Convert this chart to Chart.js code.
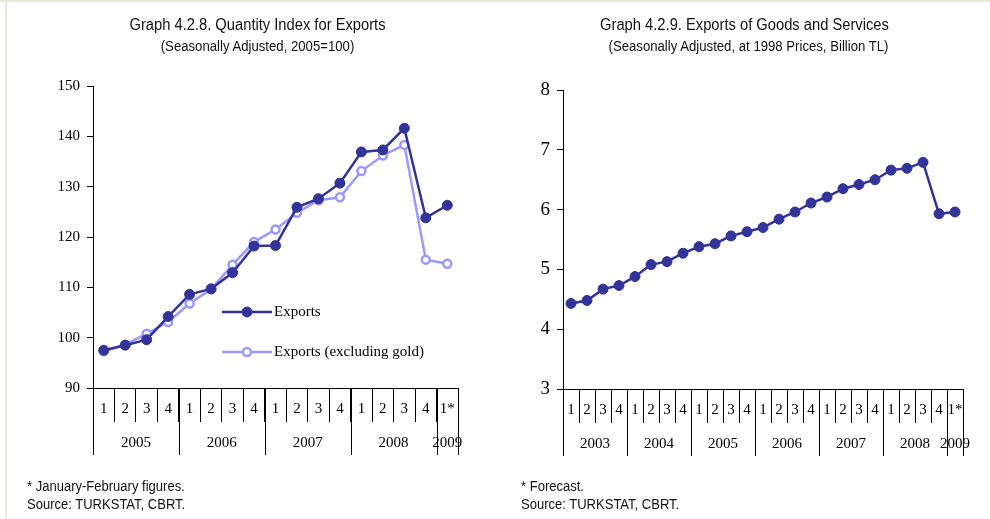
<!DOCTYPE html>
<html>
<head>
<meta charset="utf-8">
<script src="https://cdn.jsdelivr.net/npm/chart.js@4.4.1/dist/chart.umd.min.js"></script>
<style>
  html, body { margin: 0; padding: 0; background: #fff; }
  body { width: 990px; height: 519px; position: relative; overflow: hidden;
         font-family: 'Liberation Sans Narrow', 'Liberation Sans', Arial, sans-serif; color: #111; }
  .frame-top { position: absolute; left: 0; top: 0; width: 990px; height: 2px; background: #ece9d8; }
  .frame-left { position: absolute; left: 5px; top: 0; width: 2px; height: 519px; background: #ece9d8; }
  .panel { position: absolute; top: 0; width: 495px; height: 519px; }
  .panel canvas { position: absolute; left: 0; top: 0; }
  .title { position: absolute; left: 0; width: 100%; text-align: center; white-space: nowrap; }
  .t1 { top: 16px; font-size: 16px; transform: scaleX(0.92); }
  .t2 { top: 38px; font-size: 14px; transform: scaleX(0.94); }
  .note { position: absolute; top: 477px; font-size: 14px; line-height: 18px; white-space: nowrap;
          transform: scaleX(0.93); transform-origin: left top; }
</style>
</head>
<body>
<div class="frame-top"></div>
<div class="frame-left"></div>

<div class="panel" style="left:0">
  <canvas id="qtyChart" width="495" height="519"></canvas>
  <div class="title t1" style="left:10px">Graph 4.2.8. Quantity Index for Exports</div>
  <div class="title t2" style="left:10px">(Seasonally Adjusted, 2005=100)</div>
  <div class="note" style="left:27px">* January-February figures.<br>Source: TURKSTAT, CBRT.</div>
</div>

<div class="panel" style="left:495px">
  <canvas id="gsChart" width="495" height="519"></canvas>
  <div class="title t1" style="left:2px">Graph 4.2.9. Exports of Goods and Services</div>
  <div class="title t2" style="left:6px">(Seasonally Adjusted, at 1998 Prices, Billion TL)</div>
  <div class="note" style="left:26px">* Forecast.<br>Source: TURKSTAT, CBRT.</div>
</div>

<script>
// ---- Quantity index for exports, 2005 Q1 - 2009 Q1 (2005=100) ----
const qtyQuarters = ['1','2','3','4','1','2','3','4','1','2','3','4','1','2','3','4','1*'];
const qtyYears = ['2005','2006','2007','2008','2009'];
const qtyYearSpans = [4, 4, 4, 4, 1];
const exportsIndex = [97.5, 98.5, 99.6, 104.2, 108.6, 109.7, 112.9, 118.2, 118.3,
                      125.9, 127.6, 130.7, 136.9, 137.3, 141.6, 123.8, 126.3];
const exportsExGold = [97.3, 98.6, 100.8, 103.1, 106.8, 109.6, 114.5, 119.0, 121.5,
                       124.8, 127.3, 127.9, 133.1, 136.2, 138.3, 115.5, 114.7];
const qtyTicks = [90, 150, 10];   // min, max, step

// ---- Exports of goods and services, 2003 Q1 - 2009 Q1 (billion TL, 1998 prices) ----
const gsQuarters = ['1','2','3','4','1','2','3','4','1','2','3','4','1','2','3','4',
                    '1','2','3','4','1','2','3','4','1*'];
const gsYears = ['2003','2004','2005','2006','2007','2008','2009'];
const gsYearSpans = [4, 4, 4, 4, 4, 4, 1];
const goodsServices = [4.43, 4.48, 4.67, 4.73, 4.88, 5.08, 5.13, 5.27, 5.38, 5.43,
                       5.56, 5.63, 5.70, 5.84, 5.96, 6.11, 6.21, 6.35, 6.42, 6.50,
                       6.66, 6.69, 6.79, 5.93, 5.96];
const gsTicks = [3, 8, 1];

const NAVY = '#333399';
const LILAC = '#9999ff';
const SERIF = "'Liberation Serif', 'Times New Roman', serif";

// Quarter labels, year separators and year labels below the category axis
const twoRowAxis = {
  id: 'twoRowAxis',
  afterDraw(chart, args, opts) {
    const x = chart.scales.x;
    const ctx = chart.ctx;
    const y0 = Math.round(x.top);
    const half = (x.getPixelForValue(1) - x.getPixelForValue(0)) / 2;
    ctx.save();
    ctx.fillStyle = '#000';
    ctx.strokeStyle = '#000';
    ctx.lineWidth = 1;
    ctx.font = opts.font;
    ctx.textAlign = 'center';
    ctx.textBaseline = 'middle';
    chart.data.labels.forEach((lab, i) => {
      ctx.fillText(lab, x.getPixelForValue(i), y0 + opts.quarterRow);
    });
    let start = 0;
    const vline = (px) => {
      const p = Math.round(px) + 0.5;
      ctx.beginPath();
      ctx.moveTo(p, y0);
      ctx.lineTo(p, y0 + opts.yearLine);
      ctx.stroke();
    };
    opts.years.forEach((yr, k) => {
      const span = opts.spans[k];
      const left = x.getPixelForValue(start) - half;
      const right = x.getPixelForValue(start + span - 1) + half;
      vline(left);
      if (k === opts.years.length - 1) vline(right);
      ctx.fillText(yr, (left + right) / 2, y0 + opts.yearRow);
      start += span;
    });
    ctx.restore();
  }
};

// Legend drawn inside the plot area: line sample with marker, then the name
const insideLegend = {
  id: 'insideLegend',
  afterDraw(chart, args, opts) {
    if (!opts.items) return;
    const ctx = chart.ctx;
    ctx.save();
    chart.data.datasets.forEach((ds, i) => {
      const it = opts.items[i];
      ctx.strokeStyle = ds.borderColor;
      ctx.lineWidth = ds.borderWidth;
      ctx.beginPath();
      ctx.moveTo(it.x, it.y);
      ctx.lineTo(it.x + opts.length, it.y);
      ctx.stroke();
      ctx.beginPath();
      ctx.arc(it.x + opts.length / 2, it.y, ds.pointRadius, 0, Math.PI * 2);
      ctx.fillStyle = ds.pointBackgroundColor;
      ctx.fill();
      ctx.lineWidth = ds.pointBorderWidth;
      ctx.strokeStyle = ds.pointBorderColor;
      ctx.stroke();
      ctx.fillStyle = '#000';
      ctx.font = opts.font;
      ctx.textAlign = 'left';
      ctx.textBaseline = 'middle';
      ctx.fillText(ds.label, it.x + opts.length + 2, it.y);
    });
    ctx.restore();
  }
};

function scalesFor(ticks, yWidth, yFont) {
  return {
    x: {
      type: 'category',
      offset: true,
      border: { color: '#000', width: 1 },
      grid: { display: true, offset: true, drawOnChartArea: false, drawTicks: true,
              tickLength: 34, color: '#000', lineWidth: 1 },
      ticks: { display: false },
      afterFit(scale) { scale.height = 34; }
    },
    y: {
      min: ticks[0], max: ticks[1],
      border: { color: '#000', width: 1 },
      grid: { drawOnChartArea: false, drawTicks: true, tickLength: 6, color: '#000' },
      ticks: { stepSize: ticks[2], color: '#000', padding: 7,
               font: { family: SERIF, size: yFont } },
      afterFit(scale) { scale.width = yWidth; }
    }
  };
}

new Chart(document.getElementById('qtyChart'), {
  type: 'line',
  data: {
    labels: qtyQuarters,
    datasets: [
      { label: 'Exports', data: exportsIndex, borderColor: NAVY, borderWidth: 2.5,
        pointRadius: 5, pointBackgroundColor: NAVY, pointBorderColor: NAVY, pointBorderWidth: 1,
        tension: 0 },
      { label: 'Exports (excluding gold)', data: exportsExGold, borderColor: LILAC, borderWidth: 2.5,
        pointRadius: 4, pointBackgroundColor: '#ffffff', pointBorderColor: LILAC, pointBorderWidth: 2.5,
        tension: 0 }
    ]
  },
  options: {
    responsive: false, animation: false, devicePixelRatio: 1,
    layout: { padding: { left: 53, top: 86, right: 37, bottom: 97 } },
    scales: scalesFor(qtyTicks, 40, 15),
    plugins: {
      legend: { display: false }, tooltip: { enabled: false },
      twoRowAxis: { years: qtyYears, spans: qtyYearSpans, quarterRow: 21, yearRow: 55,
                    yearLine: 67, font: '15px ' + SERIF },
      insideLegend: { length: 50, font: '15px ' + SERIF,
                      items: [{ x: 222, y: 312 }, { x: 222, y: 352 }] }
    }
  },
  plugins: [twoRowAxis, insideLegend]
});

new Chart(document.getElementById('gsChart'), {
  type: 'line',
  data: {
    labels: gsQuarters,
    datasets: [
      { label: 'Exports of goods and services', data: goodsServices, borderColor: NAVY,
        borderWidth: 2.5, pointRadius: 5, pointBackgroundColor: NAVY, pointBorderColor: NAVY,
        pointBorderWidth: 1, tension: 0 }
    ]
  },
  options: {
    responsive: false, animation: false, devicePixelRatio: 1,
    layout: { padding: { left: 28, top: 90, right: 27, bottom: 96 } },
    scales: scalesFor(gsTicks, 40, 19),
    plugins: {
      legend: { display: false }, tooltip: { enabled: false },
      twoRowAxis: { years: gsYears, spans: gsYearSpans, quarterRow: 21, yearRow: 55,
                    yearLine: 67, font: '15px ' + SERIF }
    }
  },
  plugins: [twoRowAxis]
});
</script>
</body>
</html>
